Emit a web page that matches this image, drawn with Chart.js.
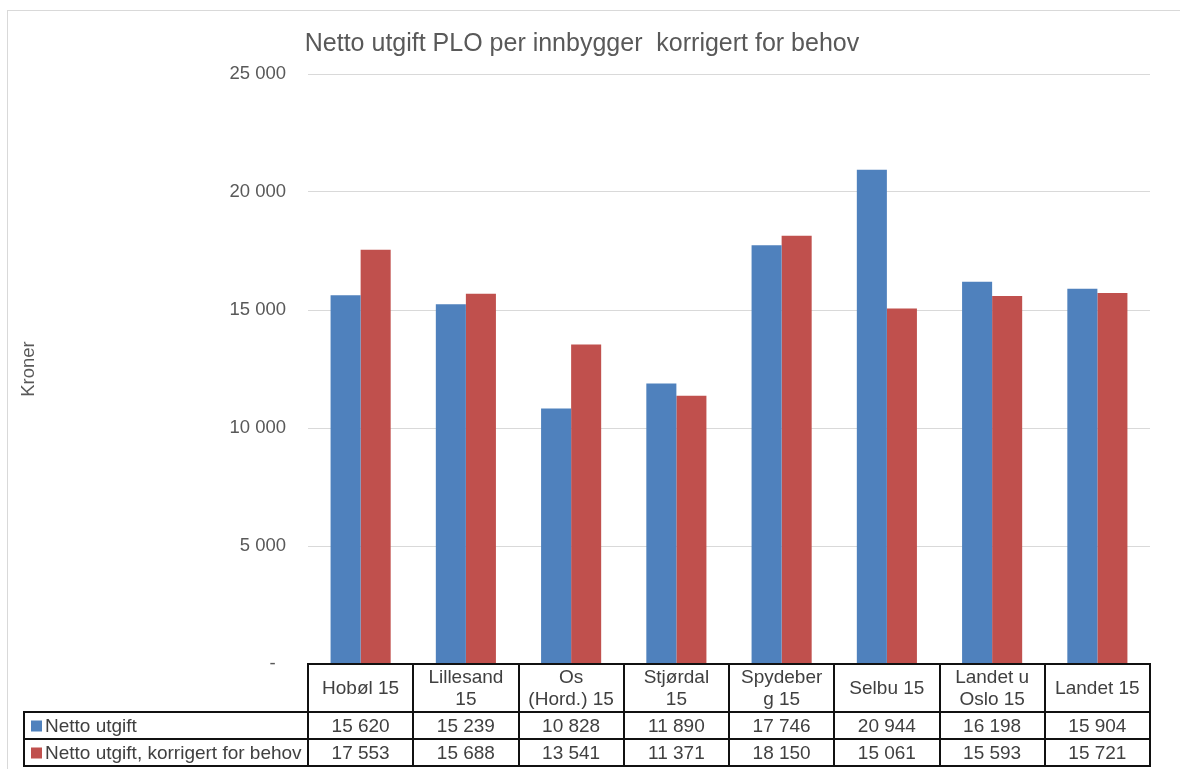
<!DOCTYPE html>
<html>
<head>
<meta charset="utf-8">
<script src="https://cdn.jsdelivr.net/npm/chart.js@4"></script>
<style>
  body { margin: 0; background: #fff; }
  canvas { display: block; }
</style>
</head>
<body>
<canvas id="chart" width="1180" height="769"></canvas>
<script>
// data
const categories = [
  ['Hobøl 15'], ['Lillesand', '15'], ['Os', '(Hord.) 15'], ['Stjørdal', '15'],
  ['Spydeber', 'g 15'], ['Selbu 15'], ['Landet u', 'Oslo 15'], ['Landet 15']
];
const seriesNames = ['Netto utgift', 'Netto utgift, korrigert for behov'];
const nettoUtgift = [15620, 15239, 10828, 11890, 17746, 20944, 16198, 15904];
const nettoKorrigert = [17553, 15688, 13541, 11371, 18150, 15061, 15593, 15721];
const yMax = 25000;
const yStep = 5000;

const blue = '#4F81BD';
const red = '#C0504D';
const font = '"Liberation Sans", Arial, sans-serif';

function fmt(v) {
  if (v === 0) return '-  ';
  return String(v).replace(/\B(?=(\d{3})+(?!\d))/g, ' ');
}

// draws the data table under the plot, lined up with the x scale
const tablePlugin = {
  id: 'dataTable',
  beforeDraw(chart) {
    const ctx = chart.ctx;
    ctx.save();
    ctx.strokeStyle = '#d9d9d9';
    ctx.lineWidth = 1;
    ctx.strokeRect(7.5, 10.5, 1185, 780);
    ctx.restore();
  },
  afterDraw(chart) {
    const ctx = chart.ctx;
    const area = chart.chartArea;
    const xs = chart.scales.x;
    const n = categories.length;
    const colW = (area.right - area.left) / n;
    const top = Math.round(area.bottom);
    const hdr = top + 48;
    const r1 = hdr + 27;
    const r2 = r1 + 27;
    const legLeft = 24;

    ctx.save();
    ctx.strokeStyle = '#111';
    ctx.lineWidth = 2;
    ctx.beginPath();
    ctx.moveTo(area.left - 1, top); ctx.lineTo(area.right + 1, top);
    [hdr, r1, r2].forEach(y => { ctx.moveTo(legLeft - 1, y); ctx.lineTo(area.right + 1, y); });
    for (let i = 0; i <= n; i++) {
      const x = Math.round(area.left + i * colW);
      ctx.moveTo(x, top); ctx.lineTo(x, r2);
    }
    ctx.moveTo(legLeft, hdr); ctx.lineTo(legLeft, r2);
    ctx.stroke();

    ctx.fillStyle = '#404040';
    ctx.font = '19px ' + font;
    ctx.textAlign = 'center';
    ctx.textBaseline = 'middle';
    categories.forEach((lab, i) => {
      const cx = xs.getPixelForValue(i);
      const mid = (top + hdr) / 2 + 1;
      if (lab.length === 1) {
        ctx.fillText(lab[0], cx, mid);
      } else {
        ctx.fillText(lab[0], cx, mid - 11);
        ctx.fillText(lab[1], cx, mid + 11);
      }
      ctx.fillText(fmt(nettoUtgift[i]), cx, (hdr + r1) / 2 + 1);
      ctx.fillText(fmt(nettoKorrigert[i]), cx, (r1 + r2) / 2 + 1);
    });

    ctx.textAlign = 'left';
    [[blue, (hdr + r1) / 2], [red, (r1 + r2) / 2]].forEach((s, k) => {
      ctx.fillStyle = s[0];
      ctx.fillRect(31, s[1] - 5, 11, 11);
      ctx.fillStyle = '#404040';
      ctx.fillText(seriesNames[k], 45, s[1] + 1);
    });
    ctx.restore();
  }
};

new Chart(document.getElementById('chart'), {
  type: 'bar',
  data: {
    labels: categories,
    datasets: [
      { label: seriesNames[0], data: nettoUtgift, backgroundColor: blue },
      { label: seriesNames[1], data: nettoKorrigert, backgroundColor: red }
    ]
  },
  options: {
    responsive: false,
    animation: false,
    devicePixelRatio: 1,
    layout: { padding: { left: 14, right: 30, top: 0, bottom: 57 } },
    datasets: { bar: { categoryPercentage: 0.571, barPercentage: 1 } },
    plugins: {
      legend: { display: false },
      tooltip: { enabled: false },
      title: {
        display: true,
        text: 'Netto utgift PLO per innbygger  korrigert for behov',
        color: '#595959',
        font: { family: font, size: 25, weight: 'normal' },
        padding: { top: 29, bottom: 15 }
      }
    },
    scales: {
      x: {
        grid: { display: false },
        border: { display: false },
        ticks: { display: false },
        afterFit(scale) { scale.height = 48; }
      },
      y: {
        min: 0,
        max: yMax,
        ticks: {
          stepSize: yStep,
          color: '#595959',
          font: { family: font, size: 18.5 },
          padding: 22,
          callback: v => fmt(v)
        },
        grid: { color: '#d9d9d9', drawTicks: false },
        border: { display: false },
        title: {
          display: true,
          text: 'Kroner',
          color: '#595959',
          font: { family: font, size: 18.5 }
        },
        afterFit(scale) { scale.width = 308 - 14; }
      }
    }
  },
  plugins: [tablePlugin]
});
</script>
</body>
</html>
